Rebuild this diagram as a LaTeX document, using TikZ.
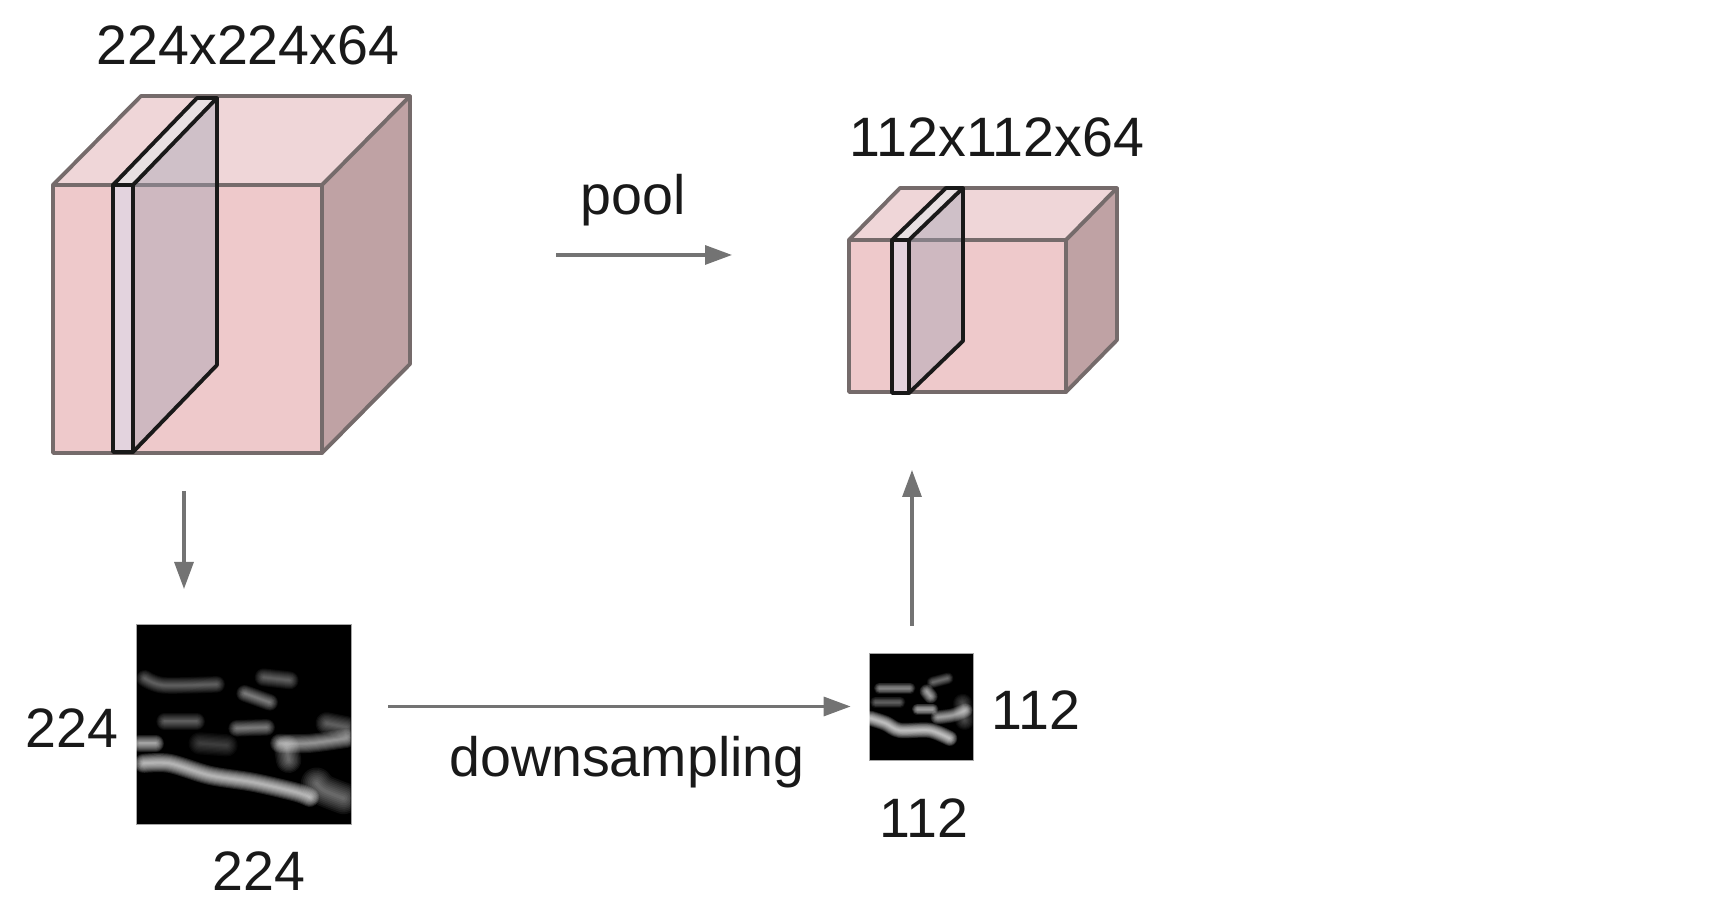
\documentclass[tikz,border=0pt]{standalone}
\usepackage{fontspec}
\setmainfont{Liberation Sans}
\usetikzlibrary{arrows.meta}
\definecolor{cubefront}{HTML}{EEC9CB}
\definecolor{cubetop}{HTML}{EFD6D8}
\definecolor{cubeside}{HTML}{BFA2A4}
\definecolor{cubeedge}{HTML}{756B6B}
\definecolor{slicefront}{HTML}{E3D3DE}
\definecolor{slicetop}{HTML}{E8E0E2}
\definecolor{slicefill}{HTML}{A09FB0}
\definecolor{arrowgray}{HTML}{737373}
\tikzset{
    sizelabel/.style={font=\fontsize{15.8}{19}\selectfont, text=black!90, inner sep=0pt},
    flowarrow/.style={draw=arrowgray, line width=0.9pt, -{Triangle[length=0.27cm, width=0.19cm]}},
    featuremap/.style={fill=black, draw=black!35, line width=0.2pt, inner sep=0pt}
}
% blurred white stroke: opacity, base width, points
\newcommand{\streak}[3]{
    \foreach \w in {1.8,1.6,1.4,1.2,1,0.8,0.6,0.4,0.2} {
        \draw[white, opacity=#1, line width=\w*#2, line cap=round, line join=round] plot[smooth] coordinates {#3};
    }
}
\begin{document}
\begin{tikzpicture}

\useasboundingbox (0,0) rectangle (17.34,9.04);

% Cubes with one slice
\foreach \xa/\xb/\ya/\yb/\dx/\dy/\sa/\sb/\sx/\sy/\sbot in {0.53/3.22/4.51/7.19/0.88/0.89/1.13/1.33/0.84/0.87/4.52, 8.49/10.66/5.12/6.64/0.51/0.52/8.92/9.09/0.54/0.52/5.11} {
    \fill[cubefront] (\xa,\ya) rectangle (\xb,\yb);
    \fill[cubetop] (\xa,\yb) -- ++(\dx,\dy) -- ++(\xb-\xa,0) -- (\xb,\yb) -- cycle;
    \fill[cubeside] (\xb,\ya) -- ++(\dx,\dy) -- ++(0,\yb-\ya) -- (\xb,\yb) -- cycle;
    \draw[cubeedge, line width=1.1pt, line join=round] (\xa,\ya) rectangle (\xb,\yb);
    \draw[cubeedge, line width=1.1pt, line join=round] (\xa,\yb) -- ++(\dx,\dy) -- ++(\xb-\xa,0) -- (\xb,\yb);
    \draw[cubeedge, line width=1.1pt, line join=round] (\xb+\dx,\yb+\dy) -- ++(0,\ya-\yb) -- (\xb,\ya);
    % Slice
    \fill[slicefill, opacity=0.4] (\sb,\sbot) -- ++(\sx,\sy) -- (\sb+\sx,\yb+\sy) -- (\sb,\yb) -- cycle;
    \fill[slicetop] (\sa,\yb) -- ++(\sx,\sy) -- ++(\sb-\sa,0) -- (\sb,\yb) -- cycle;
    \fill[slicefront] (\sa,\sbot) rectangle (\sb,\yb);
    \draw[black!90, line width=1.1pt, line join=round] (\sa,\sbot) rectangle (\sb,\yb);
    \draw[black!90, line width=1.1pt, line join=round] (\sa,\yb) -- ++(\sx,\sy) -- ++(\sb-\sa,0) -- (\sb,\yb);
    \draw[black!90, line width=1.1pt, line join=round] (\sb+\sx,\yb+\sy) -- ++(0,\sbot-\yb) -- (\sb,\sbot);
}

% Feature maps
\node[featuremap, minimum width=2.15cm, minimum height=2cm] (featbig) at (2.435,1.80) {};
\node[featuremap, minimum width=1.04cm, minimum height=1.07cm] (featsmall) at (9.21,1.975) {};

\begin{scope}[shift={(featbig.south west)}]
    \clip (0,0) rectangle (2.15,2);
    \streak{0.05}{2.6pt}{(0.09,1.46) (0.28,1.39) (0.81,1.40)}
    \streak{0.05}{2.8pt}{(1.28,1.47) (1.54,1.44)}
    \streak{0.07}{2.6pt}{(1.09,1.31) (1.34,1.22)}
    \streak{0.05}{2.6pt}{(0.29,1.03) (0.61,1.03)}
    \streak{0.07}{2.6pt}{(1.01,0.96) (1.31,0.97)}
    \streak{0.11}{2.6pt}{(0.04,0.81) (0.2,0.81)}
    \streak{0.03}{3.5pt}{(0.64,0.81) (0.91,0.79)}
    \streak{0.09}{3pt}{(1.44,0.81) (1.74,0.81) (2.11,0.86)}
    \streak{0.05}{3.5pt}{(1.91,1.01) (2.11,0.97)}
    \streak{0.06}{4pt}{(1.51,0.77) (1.53,0.64)}
    \streak{0.13}{3pt}{(0.08,0.61) (0.34,0.61) (0.74,0.49) (1.18,0.42) (1.61,0.32) (1.74,0.27)}
    \streak{0.06}{5pt}{(1.81,0.41) (1.88,0.34) (2.08,0.26)}
\end{scope}

\begin{scope}[shift={(featsmall.south west)}]
    \clip (0,0) rectangle (1.04,1.07);
    \streak{0.08}{1.8pt}{(0.11,0.72) (0.41,0.72)}
    \streak{0.06}{1.8pt}{(0.64,0.78) (0.79,0.82)}
    \streak{0.1}{2.2pt}{(0.58,0.69) (0.62,0.64)}
    \streak{0.05}{1.8pt}{(0.07,0.58) (0.31,0.58)}
    \streak{0.1}{1.8pt}{(0.49,0.51) (0.64,0.51)}
    \streak{0.14}{2.4pt}{(0.02,0.42) (0.17,0.37) (0.31,0.30) (0.61,0.30) (0.81,0.22)}
    \streak{0.1}{2.2pt}{(0.69,0.43) (0.84,0.45) (0.97,0.50)}
    \streak{0.04}{3pt}{(0.94,0.57) (0.96,0.40)}
\end{scope}

% Arrow ends
\coordinate (poolstart) at (5.56,6.49);
\coordinate (poolend) at (7.32,6.49);
\coordinate (slicestart) at (1.84,4.13);
\coordinate (sliceend) at (1.84,3.15);
\coordinate (upstart) at (9.12,2.78);
\coordinate (upend) at (9.12,4.34);

% Arrows
\draw[flowarrow] (poolstart) -- (poolend);
\draw[flowarrow] (slicestart) -- (sliceend);
\draw[flowarrow, shorten <=0.37cm, shorten >=0.18cm] (featbig.east |- featsmall) -- (featsmall.west);
\draw[flowarrow] (upstart) -- (upend);

% Labels
\node[sizelabel] (bigsize) at (2.48,8.59) {224x224x64};
\node[sizelabel] (smallsize) at (9.97,7.67) {112x112x64};
\node[sizelabel] (poollabel) at (6.33,7.04) {pool};
\node[sizelabel] (downlabel) at (6.27,1.42) {downsampling};
\node[sizelabel] (bigleft) at (0.72,1.76) {224};
\node[sizelabel] (bigbelow) at (2.59,0.33) {224};
\node[sizelabel] (smallright) at (10.36,1.94) {112};
\node[sizelabel] (smallbelow) at (9.24,0.86) {112};

\end{tikzpicture}
\end{document}
